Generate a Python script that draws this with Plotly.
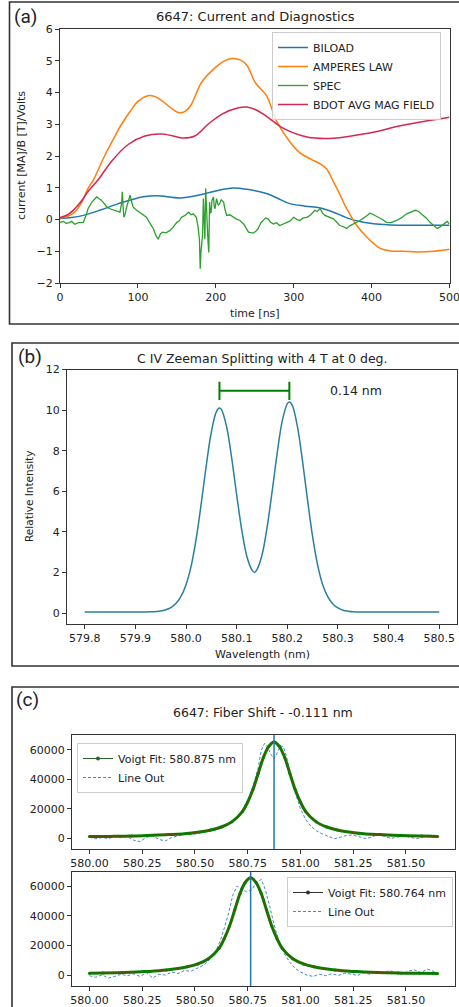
import plotly.graph_objects as go

W, H = 459, 1007
def px(x): return x / W
def py(y): return 1 - y / H

# ---------------- Panel (a) data ----------------
biload_t = [0, 15, 30, 51, 75, 107, 125, 154, 180, 200, 222, 240, 265, 280, 295, 315, 334, 351, 362, 372, 385, 394, 410, 424, 450, 500]
biload_v = [0.03, 0.06, 0.13, 0.29, 0.5, 0.72, 0.75, 0.68, 0.78, 0.9, 0.99, 0.95, 0.82, 0.66, 0.5, 0.42, 0.36, 0.23, 0.12, 0.02, -0.06, -0.1, -0.15, -0.17, -0.18, -0.18]

amp_t = [0, 10, 19, 28, 36, 43, 50, 58, 70, 79, 90, 100, 113, 122, 131, 142, 152, 160, 168, 182, 200, 210, 221, 232, 240, 251, 265, 278, 295, 308, 322, 334, 342, 351, 360, 368, 381, 394, 411, 424, 440, 458, 480, 500]
amp_v = [0.05, 0.1, 0.24, 0.55, 0.98, 1.25, 1.62, 2.04, 2.6, 3.0, 3.4, 3.72, 3.9, 3.87, 3.74, 3.52, 3.37, 3.4, 3.6, 4.33, 4.8, 4.98, 5.07, 5.02, 4.85, 4.3, 3.9, 3.1, 2.45, 2.1, 1.9, 1.75, 1.6, 1.19, 0.75, 0.34, -0.19, -0.56, -0.91, -0.99, -1.0, -1.02, -1.0, -0.94]

bdot_t = [0, 10, 19, 28, 36, 49, 66, 88, 109, 131, 145, 156, 173, 190, 208, 229, 240, 252, 265, 287, 317, 351, 394, 437, 470, 500]
bdot_v = [0.06, 0.15, 0.34, 0.6, 0.88, 1.25, 1.83, 2.37, 2.63, 2.69, 2.63, 2.57, 2.63, 3.0, 3.32, 3.52, 3.54, 3.45, 3.25, 2.87, 2.6, 2.56, 2.71, 2.95, 3.1, 3.22]

spec_t = [0, 4, 8, 12, 15, 19, 24, 30, 33, 36, 41, 47, 50, 53, 57, 60, 65, 70, 74, 77, 79, 80, 81, 82, 84, 85, 88, 90, 92, 94, 98, 102, 106, 111, 115, 120, 123, 126, 129, 132, 136, 141, 145, 150, 153, 156, 160, 165, 168, 171, 175, 177, 179, 180, 181, 183, 184, 185, 186, 187, 188, 189, 190, 191, 192, 193, 194, 195, 197, 198, 199, 200, 201, 203, 205, 207, 210, 212, 214, 218, 222, 226, 231, 236, 242, 245, 248, 251, 254, 258, 261, 264, 267, 270, 274, 278, 282, 286, 291, 295, 300, 304, 308, 312, 317, 322, 327, 330, 334, 337, 340, 343, 346, 351, 355, 359, 363, 368, 372, 377, 381, 385, 390, 394, 398, 400, 405, 409, 414, 419, 425, 432, 438, 445, 450, 456, 460, 464, 470, 475, 480, 484, 487, 490, 494, 497, 500]
spec_v = [-0.09, -0.06, -0.12, -0.1, -0.06, -0.15, -0.1, -0.09, 0.1, 0.34, 0.55, 0.71, 0.66, 0.61, 0.5, 0.39, 0.33, 0.29, 0.25, 0.23, 0.5, 0.87, 0.4, 0.07, 0.2, 0.34, 0.6, 0.77, 0.55, 0.39, 0.3, 0.23, 0.15, 0.07, -0.1, -0.3, -0.5, -0.62, -0.45, -0.4, -0.42, -0.35, -0.25, -0.09, -0.05, 0.07, 0.12, 0.23, 0.15, 0.18, 0.07, -0.2, -0.62, -1.55, -1.0, -0.5, 0.66, 0.1, -0.62, 0.98, 0.3, -0.4, -0.7, -1.04, 0.55, 0.2, 0.23, 0.6, 0.71, 0.4, 0.34, 0.5, 0.66, 0.45, 0.5, 0.62, 0.55, 0.3, 0.13, 0.15, 0.07, 0.02, -0.03, -0.15, -0.4, -0.42, -0.43, -0.38, -0.3, -0.1, -0.03, 0.05, 0.02, -0.08, -0.14, -0.1, -0.19, -0.15, -0.09, -0.05, 0.07, 0.0, -0.03, 0.05, 0.07, 0.15, 0.29, 0.25, 0.34, 0.2, 0.13, 0.1, 0.05, 0.02, -0.08, -0.19, -0.22, -0.28, -0.2, -0.14, -0.08, -0.03, 0.05, 0.13, 0.2, 0.18, 0.12, 0.07, 0.0, -0.09, -0.1, -0.03, 0.05, 0.18, 0.22, 0.29, 0.26, 0.18, 0.05, -0.09, -0.2, -0.28, -0.25, -0.19, -0.12, -0.06, -0.14]

# ---------------- Panel (b) data ----------------
zee_x = [579.80, 579.85, 579.90, 579.93, 579.95, 579.96, 579.97, 579.98, 579.99, 580.00, 580.01, 580.02, 580.03, 580.04, 580.05, 580.06, 580.066, 580.07, 580.08, 580.09, 580.10, 580.11, 580.12, 580.13, 580.135, 580.14, 580.15, 580.16, 580.17, 580.18, 580.19, 580.20, 580.204, 580.21, 580.22, 580.23, 580.24, 580.25, 580.26, 580.27, 580.28, 580.29, 580.30, 580.31, 580.32, 580.33, 580.35, 580.40, 580.45, 580.50]
zee_y = [0.05, 0.05, 0.05, 0.06, 0.1, 0.16, 0.27, 0.47, 0.82, 1.4, 2.3, 3.65, 5.39, 7.28, 8.92, 9.92, 10.1, 10.02, 9.19, 7.66, 5.82, 4.1, 2.8, 2.13, 2.0, 2.14, 2.86, 4.21, 5.99, 7.88, 9.47, 10.32, 10.4, 10.22, 9.18, 7.49, 5.55, 3.75, 2.35, 1.38, 0.8, 0.45, 0.25, 0.14, 0.09, 0.06, 0.05, 0.05, 0.05, 0.05]
split_x = [580.066, 580.204]
split_y = 10.95
split_label = "0.14 nm"

# ---------------- Panel (c) data ----------------
fit1_center = 580.875
fit1_x = [580.00, 580.10, 580.20, 580.275, 580.375, 580.475, 580.575, 580.625, 580.675, 580.725, 580.75, 580.775, 580.80, 580.825, 580.85, 580.875, 580.90, 580.925, 580.95, 580.975, 581.00, 581.025, 581.075, 581.125, 581.175, 581.275, 581.375, 581.475, 581.575, 581.65]
fit1_y = [1000, 1100, 1300, 1700, 2300, 3300, 5500, 7500, 11000, 18000, 24500, 33000, 44000, 55000, 62500, 65500, 62500, 55000, 44000, 33000, 24500, 18000, 11000, 7500, 5500, 3300, 2300, 1700, 1300, 1100]
line1_x = [580.00, 580.03, 580.06, 580.09, 580.12, 580.15, 580.18, 580.21, 580.24, 580.27, 580.30, 580.33, 580.36, 580.39, 580.42, 580.45, 580.48, 580.51, 580.54, 580.57, 580.60, 580.63, 580.66, 580.69, 580.72, 580.75, 580.775, 580.80, 580.815, 580.83, 580.845, 580.86, 580.875, 580.89, 580.905, 580.92, 580.935, 580.95, 580.975, 581.00, 581.025, 581.05, 581.075, 581.10, 581.13, 581.16, 581.19, 581.22, 581.25, 581.28, 581.31, 581.34, 581.37, 581.40, 581.43, 581.46, 581.49, 581.52, 581.55, 581.58, 581.61, 581.64]
line1_y = [500, -500, 300, -300, 800, 200, 1000, -1500, -2500, 500, 1500, -1000, -2000, 300, 1500, 2500, 2200, 3000, 3500, 4200, 5500, 7000, 9500, 13000, 18000, 25000, 35000, 48000, 60000, 64500, 62000, 57000, 54000, 58000, 63000, 62000, 55000, 45000, 31000, 20000, 12500, 8000, 5000, 3000, 1000, -500, 500, 1800, 2000, 500, -500, 800, 2500, 1000, -300, 700, 1500, 500, -500, 800, 2200, 1200]

fit2_center = 580.764
fit2_x = [580.00, 580.064, 580.164, 580.264, 580.364, 580.464, 580.514, 580.564, 580.614, 580.639, 580.664, 580.689, 580.714, 580.739, 580.764, 580.789, 580.814, 580.839, 580.864, 580.889, 580.914, 580.964, 581.014, 581.064, 581.164, 581.264, 581.364, 581.464, 581.564, 581.65]
fit2_y = [1100, 1300, 1700, 2300, 3300, 5500, 7500, 11000, 18000, 24500, 33000, 44000, 55000, 62500, 65500, 62500, 55000, 44000, 33000, 24500, 18000, 11000, 7500, 5500, 3300, 2300, 1700, 1300, 1100, 1000]
line2_x = [580.00, 580.03, 580.06, 580.09, 580.12, 580.15, 580.18, 580.21, 580.24, 580.27, 580.30, 580.33, 580.36, 580.39, 580.42, 580.45, 580.48, 580.51, 580.54, 580.56, 580.58, 580.60, 580.62, 580.64, 580.66, 580.68, 580.70, 580.72, 580.745, 580.77, 580.79, 580.815, 580.835, 580.855, 580.875, 580.90, 580.925, 580.95, 580.975, 581.00, 581.03, 581.06, 581.09, 581.12, 581.15, 581.18, 581.21, 581.24, 581.27, 581.30, 581.33, 581.36, 581.39, 581.42, 581.45, 581.48, 581.51, 581.54, 581.57, 581.60, 581.63, 581.65]
line2_y = [-500, -1500, 0, -2000, -1000, 500, -500, 800, -1000, 1500, -2000, 500, 0, 2000, 1000, 3000, 2500, 4500, 6500, 9000, 12000, 16500, 23000, 32000, 42000, 54000, 60000, 58000, 56000, 57500, 62000, 64500, 57000, 46000, 34000, 22000, 14000, 8500, 4500, 2000, 0, -1000, 500, -500, 800, -300, 1200, 600, -300, 1500, 500, 2500, 1000, 3000, 1500, 500, 2500, 3500, 1500, 4000, 2500, 1000]

BLUE, ORANGE, GREEN, RED = "#1f77b4", "#ff7f0e", "#2ca02c", "#d62750"
FONT = "DejaVu Sans"
TXT = "#222222"
LINEOUT = "#4a86c8"

fig = go.Figure()

# (a)
fig.add_trace(go.Scatter(x=biload_t, y=biload_v, mode="lines", name="BILOAD", line=dict(color=BLUE, width=1.5, shape="spline"), xaxis="x", yaxis="y", legend="legend"))
fig.add_trace(go.Scatter(x=amp_t, y=amp_v, mode="lines", name="AMPERES LAW", line=dict(color=ORANGE, width=1.5, shape="spline"), xaxis="x", yaxis="y", legend="legend"))
fig.add_trace(go.Scatter(x=spec_t, y=spec_v, mode="lines", name="SPEC", line=dict(color=GREEN, width=1.3), xaxis="x", yaxis="y", legend="legend"))
fig.add_trace(go.Scatter(x=bdot_t, y=bdot_v, mode="lines", name="BDOT AVG MAG FIELD", line=dict(color=RED, width=1.5, shape="spline"), xaxis="x", yaxis="y", legend="legend"))

# (b)
fig.add_trace(go.Scatter(x=zee_x, y=zee_y, mode="lines", showlegend=False, line=dict(color="#2a7f9e", width=1.5, shape="spline"), xaxis="x2", yaxis="y2"))
fig.add_trace(go.Scatter(x=split_x, y=[split_y, split_y], mode="lines", showlegend=False, line=dict(color="green", width=2),
                         error_y=dict(type="constant", value=0.45, color="green", thickness=2, width=0), xaxis="x2", yaxis="y2"))

def add_fit_panel(fx, fy, lx, ly, center, xa, ya, lg, legcolor):
    fig.add_trace(go.Scatter(x=lx, y=ly, mode="lines", showlegend=False, line=dict(color=LINEOUT, width=1, dash="3px,2px"), xaxis=xa, yaxis=ya))
    fig.add_trace(go.Scatter(x=fx, y=fy, mode="lines+markers", showlegend=False, line=dict(color="green", width=3, shape="spline"),
                             marker=dict(size=3, color="green"), xaxis=xa, yaxis=ya))
    fig.add_trace(go.Scatter(x=fx, y=fy, mode="lines", showlegend=False, line=dict(color="red", width=0.6, shape="spline"), opacity=0.6, xaxis=xa, yaxis=ya))
    fig.add_trace(go.Scatter(x=[None], y=[None], mode="lines+markers", name="Voigt Fit: %.3f nm" % center,
                             line=dict(color=legcolor, width=1), marker=dict(size=4, color=legcolor), xaxis=xa, yaxis=ya, legend=lg))
    fig.add_trace(go.Scatter(x=[None], y=[None], mode="lines", name="Line Out",
                             line=dict(color=LINEOUT, width=1, dash="3px,2px"), xaxis=xa, yaxis=ya, legend=lg))

add_fit_panel(fit1_x, fit1_y, line1_x, line1_y, fit1_center, "x3", "y3", "legend2", "#2d5e2d")
add_fit_panel(fit2_x, fit2_y, line2_x, line2_y, fit2_center, "x4", "y4", "legend3", "#333333")

axis_common = dict(showline=True, linecolor="#333333", linewidth=1, mirror=True, ticks="outside", ticklen=4,
                   tickcolor="#333333", showgrid=False, zeroline=False, ticklabeloverflow="allow", automargin=False,
                   tickfont=dict(family=FONT, size=11, color=TXT))

leg_common = dict(xanchor="left", yanchor="top", bgcolor="rgba(255,255,255,0.8)", bordercolor="#cccccc",
                  borderwidth=1, font=dict(family=FONT, size=11, color=TXT), itemwidth=30, traceorder="normal")

fig.update_layout(
    width=W, height=H, margin=dict(l=0, r=0, t=0, b=0, autoexpand=False),
    paper_bgcolor="white", plot_bgcolor="white",
    font=dict(family=FONT, color=TXT),
    xaxis=dict(domain=[px(60), px(449.5)], range=[0, 500], dtick=100, anchor="y", **axis_common),
    yaxis=dict(domain=[py(283), py(29)], range=[-2, 6], dtick=1, anchor="x", **axis_common),
    xaxis2=dict(domain=[px(67), px(457)], range=[579.765, 580.535], dtick=0.1, tickformat=".1f", anchor="y2", **axis_common),
    yaxis2=dict(domain=[py(624), py(369.5)], range=[-0.54, 12], dtick=2, anchor="x2", **axis_common),
    xaxis3=dict(domain=[px(72), px(455)], range=[579.9175, 581.7325], dtick=0.25, tickformat=".2f", anchor="y3", **axis_common),
    yaxis3=dict(domain=[py(849), py(735)], range=[-7500, 70200], dtick=20000, tickformat="d", anchor="x3", **axis_common),
    xaxis4=dict(domain=[px(72), px(455)], range=[579.9175, 581.7325], dtick=0.25, tickformat=".2f", anchor="y4", **axis_common),
    yaxis4=dict(domain=[py(986), py(872)], range=[-7416, 69440], dtick=20000, tickformat="d", anchor="x4", **axis_common),
    legend=dict(x=px(272), y=py(32), **leg_common),
    legend2=dict(x=px(77), y=py(743), **leg_common),
    legend3=dict(x=px(287), y=py(877), **leg_common),
)

# Panel frames
for (x0, y0, y1) in [(9.5, 2, 324), (12, 343, 666), (12, 687, 1012)]:
    fig.add_shape(type="rect", xref="paper", yref="paper", x0=px(x0), x1=1.02, y0=py(y1), y1=py(y0),
                  line=dict(color="#333333", width=1.6), layer="below")

# Vertical fit-center lines
fig.add_shape(type="line", xref="x3", yref="y3 domain", x0=fit1_center, x1=fit1_center, y0=0, y1=1, line=dict(color=BLUE, width=1.5))
fig.add_shape(type="line", xref="x4", yref="y4 domain", x0=fit2_center, x1=fit2_center, y0=0, y1=1, line=dict(color=BLUE, width=1.5))

def ann(text, x, y, size, angle=0, family=FONT, xanchor="center", color=TXT):
    fig.add_annotation(text=text, x=px(x), y=py(y), xref="paper", yref="paper", showarrow=False,
                       font=dict(family=family, size=size, color=color), xanchor=xanchor, yanchor="middle", textangle=angle)

ann("(a)", 25, 17, 19, family="Roboto")
ann("(b)", 30, 356, 19, family="Roboto")
ann("(c)", 27, 699, 19, family="Roboto")
ann("6647: Current and Diagnostics", 255, 17, 13)
ann("time [ns]", 255, 313, 11)
ann("current [MA]/B [T]/Volts", 21, 156, 11, angle=-90)
ann("C IV Zeeman Splitting with 4 T at 0 deg.", 262, 358, 12.5)
ann("Relative Intensity", 29, 497, 10.5, angle=-90)
ann("Wavelength (nm)", 262, 654, 11)
ann("6647: Fiber Shift - -0.111 nm", 263, 712, 12.5)

fig.add_annotation(text=split_label, x=580.28, y=split_y, xref="x2", yref="y2", showarrow=False, xanchor="left",
                   font=dict(family=FONT, size=12.5, color=TXT))

fig.write_html("out.html")
